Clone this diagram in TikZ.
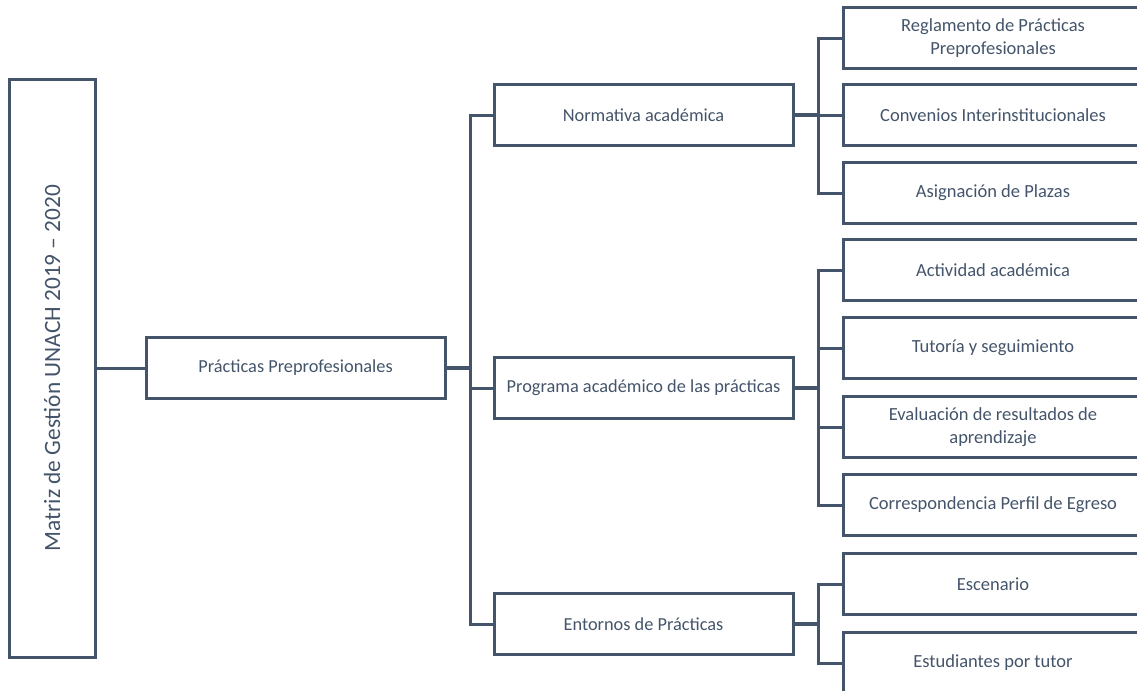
\documentclass[tikz,border=0pt]{standalone}
\usepackage{fontspec}
\setmainfont{Carlito}
\usepackage{tikz}
\usetikzlibrary{positioning,calc}
\usepackage{xcolor}
\definecolor{slate}{HTML}{44546A}
\tikzset{
    rootbox/.style={draw=slate, line width=1.8pt, rectangle, minimum width=346.8pt, minimum height=51.6pt, text=slate, font=\fontsize{14}{16}\selectfont, rotate=90},
    topic/.style={draw=slate, line width=1.8pt, rectangle, minimum width=179.4pt, minimum height=36.6pt, text=slate, font=\fontsize{11}{13}\selectfont, align=center},
    item/.style={draw=slate, line width=1.8pt, rectangle, minimum width=179.4pt, minimum height=36.6pt, text=slate, font=\fontsize{11.1}{13.5}\selectfont, align=center, anchor=west},
    link/.style={draw=slate, line width=1.8pt},
    trunk/.style={draw=slate, line width=2.6pt}
}
\begin{document}
\begin{tikzpicture}[x=0.6pt, y=-0.6pt]
        \useasboundingbox (0,0) rectangle (1137,690);

        % Root
        \node[rootbox] (matriz) at (52,368) {Matriz de Gestión UNACH 2019 -- 2020};

        % Level 1
        \node[topic] (practicas) at (295.5,368) {Prácticas Preprofesionales};

        % Level 2
        \node[topic] (normativa) at (643.5,115) {Normativa académica};
        \node[topic] (programa) at (643.5,388) {Programa académico de las prácticas};
        \node[topic] (entornos) at (643.5,624) {Entornos de Prácticas};

        % Level 3
        \node[item] (reglamento) at (842,38) {Reglamento de Prácticas\\Preprofesionales};
        \node[item] (convenios) at (842,115) {Convenios Interinstitucionales};
        \node[item] (asignacion) at (842,193) {Asignación de Plazas};
        \node[item] (actividad) at (842,270) {Actividad académica};
        \node[item] (tutoria) at (842,348) {Tutoría y seguimiento};
        \node[item] (evaluacion) at (842,427) {Evaluación de resultados de\\aprendizaje};
        \node[item] (perfil) at (842,505) {Correspondencia Perfil de Egreso};
        \node[item] (escenario) at (842,584) {Escenario};
        \node[item] (estudiantes) at (842,663) {Estudiantes por tutor};

        % Junctions
        \coordinate (jp) at (470,368);
        \coordinate (jn) at (818,115);
        \coordinate (jg) at (818,388);
        \coordinate (je) at (818,624);

        % Connections
        \draw[link] (matriz.south) -- (practicas);
        \draw[trunk] (practicas) -- (jp);
        \draw[link] (jp) |- (normativa);
        \draw[link] (jp) |- (programa);
        \draw[link] (jp) |- (entornos);

        \draw[trunk] (normativa) -- (jn);
        \draw[link] (jn) |- (reglamento);
        \draw[link] (jn) -- (convenios);
        \draw[link] (jn) |- (asignacion);

        \draw[trunk] (programa) -- (jg);
        \draw[link] (jg) |- (actividad);
        \draw[link] (jg) |- (tutoria);
        \draw[link] (jg) |- (evaluacion);
        \draw[link] (jg) |- (perfil);

        \draw[trunk] (entornos) -- (je);
        \draw[link] (je) |- (escenario);
        \draw[link] (je) |- (estudiantes);
    \end{tikzpicture}
\end{document}
